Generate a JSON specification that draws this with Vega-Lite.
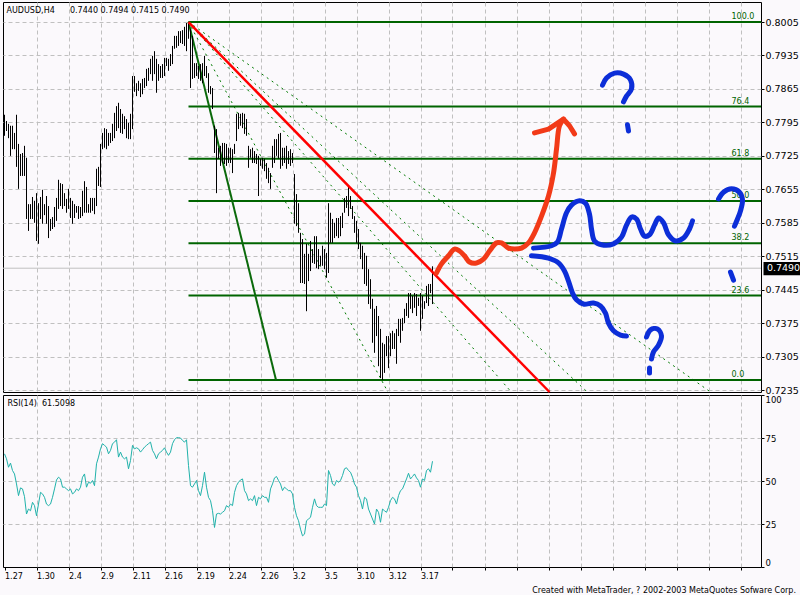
{
  "$schema": "https://vega.github.io/schema/vega-lite/v6.json",
  "background": "#fbf9fc",
  "padding": {"left": 2, "top": 1, "right": 0, "bottom": 0},
  "bounds": "flush",
  "spacing": 3,
  "resolve": {"scale": {"x": "shared", "y": "independent"}},
  "title": {"text": "Created with MetaTrader, ? 2002-2003 MetaQuotes Sofware Corp.", "orient": "bottom", "anchor": "end", "frame": "bounds", "font": "DejaVu Sans", "fontSize": 8, "fontWeight": "normal", "color": "#000000", "offset": 6, "dx": -6},
  "config": {
    "view": {"stroke": "#000000", "strokeWidth": 1, "fill": "#fbf9fc"},
    "axis": {"title": null, "domain": false, "gridColor": "#c0c0c0", "gridDash": [4, 3], "gridWidth": 1, "tickColor": "#000000", "labelColor": "#000000", "labelFont": "DejaVu Sans", "tickCount": 200, "labelOverlap": false},
    "text": {"font": "DejaVu Sans"}
  },
  "datasets": {
    "bars": [
      {"i":0,"h":0.7811,"l":0.7767},{"i":1,"h":0.7798,"l":0.7777},{"i":2,"h":0.7792,"l":0.7762},{"i":3,"h":0.7788,"l":0.7725},{"i":4,"h":0.7788,"l":0.7739},{"i":5,"h":0.7773,"l":0.7739},{"i":6,"h":0.7811,"l":0.7702},{"i":7,"h":0.7750,"l":0.7656},{"i":8,"h":0.7729,"l":0.7683},{"i":9,"h":0.7731,"l":0.7683},
      {"i":10,"h":0.7746,"l":0.7683},{"i":11,"h":0.7721,"l":0.7593},{"i":12,"h":0.7624,"l":0.7568},{"i":13,"h":0.7624,"l":0.7593},{"i":14,"h":0.7639,"l":0.7593},{"i":15,"h":0.7631,"l":0.7585},{"i":16,"h":0.7647,"l":0.7547},{"i":17,"h":0.7626,"l":0.7541},{"i":18,"h":0.7639,"l":0.7593},{"i":19,"h":0.7654,"l":0.7583},
      {"i":20,"h":0.7624,"l":0.7601},{"i":21,"h":0.7641,"l":0.7583},{"i":22,"h":0.7620,"l":0.7553},{"i":23,"h":0.7593,"l":0.7568},{"i":24,"h":0.7597,"l":0.7572},{"i":25,"h":0.7618,"l":0.7576},{"i":26,"h":0.7637,"l":0.7589},{"i":27,"h":0.7675,"l":0.7614},{"i":28,"h":0.7668,"l":0.7620},{"i":29,"h":0.7666,"l":0.7614},
      {"i":30,"h":0.7647,"l":0.7620},{"i":31,"h":0.7635,"l":0.7606},{"i":32,"h":0.7656,"l":0.7614},{"i":33,"h":0.7637,"l":0.7595},{"i":34,"h":0.7631,"l":0.7583},{"i":35,"h":0.7624,"l":0.7595},{"i":36,"h":0.7620,"l":0.7606},{"i":37,"h":0.7620,"l":0.7593},{"i":38,"h":0.7618,"l":0.7595},{"i":39,"h":0.7652,"l":0.7599},
      {"i":40,"h":0.7672,"l":0.7606},{"i":41,"h":0.7660,"l":0.7606},{"i":42,"h":0.7624,"l":0.7606},{"i":43,"h":0.7637,"l":0.7606},{"i":44,"h":0.7637,"l":0.7610},{"i":45,"h":0.7637,"l":0.7603},{"i":46,"h":0.7698,"l":0.7620},{"i":47,"h":0.7702,"l":0.7662},{"i":48,"h":0.7750,"l":0.7660},{"i":49,"h":0.7773,"l":0.7739},
      {"i":50,"h":0.7783,"l":0.7742},{"i":51,"h":0.7781,"l":0.7739},{"i":52,"h":0.7773,"l":0.7746},{"i":53,"h":0.7773,"l":0.7752},{"i":54,"h":0.7792,"l":0.7756},{"i":55,"h":0.7815,"l":0.7762},{"i":56,"h":0.7829,"l":0.7777},{"i":57,"h":0.7836,"l":0.7783},{"i":58,"h":0.7823,"l":0.7773},{"i":59,"h":0.7813,"l":0.7771},
      {"i":60,"h":0.7808,"l":0.7781},{"i":61,"h":0.7802,"l":0.7762},{"i":62,"h":0.7794,"l":0.7760},{"i":63,"h":0.7813,"l":0.7760},{"i":64,"h":0.7892,"l":0.7781},{"i":65,"h":0.7892,"l":0.7859},{"i":66,"h":0.7877,"l":0.7850},{"i":67,"h":0.7882,"l":0.7861},{"i":68,"h":0.7877,"l":0.7848},{"i":69,"h":0.7886,"l":0.7854},
      {"i":70,"h":0.7888,"l":0.7867},{"i":71,"h":0.7907,"l":0.7871},{"i":72,"h":0.7909,"l":0.7882},{"i":73,"h":0.7928,"l":0.7896},{"i":74,"h":0.7934,"l":0.7882},{"i":75,"h":0.7944,"l":0.7896},{"i":76,"h":0.7928,"l":0.7857},{"i":77,"h":0.7917,"l":0.7882},{"i":78,"h":0.7913,"l":0.7888},{"i":79,"h":0.7917,"l":0.7888},
      {"i":80,"h":0.7930,"l":0.7892},{"i":81,"h":0.7930,"l":0.7913},{"i":82,"h":0.7928,"l":0.7903},{"i":83,"h":0.7938,"l":0.7913},{"i":84,"h":0.7955,"l":0.7917},{"i":85,"h":0.7976,"l":0.7949},{"i":86,"h":0.7976,"l":0.7951},{"i":87,"h":0.7986,"l":0.7955},{"i":88,"h":0.7986,"l":0.7961},{"i":89,"h":0.7988,"l":0.7959},
      {"i":90,"h":0.7995,"l":0.7955},{"i":91,"h":0.8003,"l":0.7944},{"i":92,"h":0.8005,"l":0.7970},{"i":93,"h":0.7990,"l":0.7867},{"i":94,"h":0.7976,"l":0.7886},{"i":95,"h":0.7919,"l":0.7888},{"i":96,"h":0.7919,"l":0.7892},{"i":97,"h":0.7913,"l":0.7886},{"i":98,"h":0.7917,"l":0.7882},{"i":99,"h":0.7919,"l":0.7877},
      {"i":100,"h":0.7934,"l":0.7892},{"i":101,"h":0.7913,"l":0.7888},{"i":102,"h":0.7898,"l":0.7857},{"i":103,"h":0.7871,"l":0.7854},{"i":104,"h":0.7867,"l":0.7823},{"i":105,"h":0.7788,"l":0.7731},{"i":106,"h":0.7781,"l":0.7647},{"i":107,"h":0.7742,"l":0.7719},{"i":108,"h":0.7746,"l":0.7704},{"i":109,"h":0.7752,"l":0.7710},
      {"i":110,"h":0.7752,"l":0.7708},{"i":111,"h":0.7750,"l":0.7704},{"i":112,"h":0.7742,"l":0.7710},{"i":113,"h":0.7742,"l":0.7710},{"i":114,"h":0.7739,"l":0.7689},{"i":115,"h":0.7750,"l":0.7729},{"i":116,"h":0.7813,"l":0.7756},{"i":117,"h":0.7815,"l":0.7781},{"i":118,"h":0.7813,"l":0.7788},{"i":119,"h":0.7815,"l":0.7783},
      {"i":120,"h":0.7813,"l":0.7771},{"i":121,"h":0.7802,"l":0.7767},{"i":122,"h":0.7746,"l":0.7700},{"i":123,"h":0.7739,"l":0.7721},{"i":124,"h":0.7742,"l":0.7710},{"i":125,"h":0.7735,"l":0.7710},{"i":126,"h":0.7729,"l":0.7708},{"i":127,"h":0.7725,"l":0.7641},{"i":128,"h":0.7719,"l":0.7704},{"i":129,"h":0.7721,"l":0.7698},
      {"i":130,"h":0.7719,"l":0.7693},{"i":131,"h":0.7710,"l":0.7677},{"i":132,"h":0.7700,"l":0.7668},{"i":133,"h":0.7689,"l":0.7656},{"i":134,"h":0.7746,"l":0.7700},{"i":135,"h":0.7760,"l":0.7710},{"i":136,"h":0.7760,"l":0.7725},{"i":137,"h":0.7771,"l":0.7719},{"i":138,"h":0.7773,"l":0.7698},{"i":139,"h":0.7742,"l":0.7704},
      {"i":140,"h":0.7742,"l":0.7710},{"i":141,"h":0.7746,"l":0.7698},{"i":142,"h":0.7735,"l":0.7708},{"i":143,"h":0.7739,"l":0.7704},{"i":144,"h":0.7731,"l":0.7710},{"i":145,"h":0.7687,"l":0.7583},{"i":146,"h":0.7645,"l":0.7578},{"i":147,"h":0.7626,"l":0.7564},{"i":148,"h":0.7564,"l":0.7459},{"i":149,"h":0.7551,"l":0.7459},
      {"i":150,"h":0.7520,"l":0.7457},{"i":151,"h":0.7541,"l":0.7400},{"i":152,"h":0.7520,"l":0.7463},{"i":153,"h":0.7547,"l":0.7484},{"i":154,"h":0.7530,"l":0.7501},{"i":155,"h":0.7557,"l":0.7499},{"i":156,"h":0.7557,"l":0.7490},{"i":157,"h":0.7530,"l":0.7488},{"i":158,"h":0.7516,"l":0.7495},{"i":159,"h":0.7537,"l":0.7495},
      {"i":160,"h":0.7530,"l":0.7488},{"i":161,"h":0.7522,"l":0.7470},{"i":162,"h":0.7626,"l":0.7480},{"i":163,"h":0.7606,"l":0.7543},{"i":164,"h":0.7593,"l":0.7543},{"i":165,"h":0.7585,"l":0.7553},{"i":166,"h":0.7595,"l":0.7557},{"i":167,"h":0.7595,"l":0.7553},{"i":168,"h":0.7599,"l":0.7557},{"i":169,"h":0.7606,"l":0.7574},
      {"i":170,"h":0.7637,"l":0.7606},{"i":171,"h":0.7641,"l":0.7616},{"i":172,"h":0.7662,"l":0.7599},{"i":173,"h":0.7641,"l":0.7614},{"i":174,"h":0.7620,"l":0.7593},{"i":175,"h":0.7599,"l":0.7564},{"i":176,"h":0.7589,"l":0.7543},{"i":177,"h":0.7572,"l":0.7530},{"i":178,"h":0.7543,"l":0.7509},{"i":179,"h":0.7537,"l":0.7488},
      {"i":180,"h":0.7522,"l":0.7457},{"i":181,"h":0.7516,"l":0.7453},{"i":182,"h":0.7488,"l":0.7415},{"i":183,"h":0.7467,"l":0.7405},{"i":184,"h":0.7426,"l":0.7334},{"i":185,"h":0.7405,"l":0.7313},{"i":186,"h":0.7411,"l":0.7348},{"i":187,"h":0.7390,"l":0.7285},{"i":188,"h":0.7363,"l":0.7260},{"i":189,"h":0.7334,"l":0.7256},
      {"i":190,"h":0.7331,"l":0.7271},{"i":191,"h":0.7348,"l":0.7306},{"i":192,"h":0.7348,"l":0.7281},{"i":193,"h":0.7354,"l":0.7306},{"i":194,"h":0.7359,"l":0.7321},{"i":195,"h":0.7354,"l":0.7321},{"i":196,"h":0.7363,"l":0.7290},{"i":197,"h":0.7384,"l":0.7348},{"i":198,"h":0.7384,"l":0.7334},{"i":199,"h":0.7386,"l":0.7359},
      {"i":200,"h":0.7405,"l":0.7375},{"i":201,"h":0.7417,"l":0.7390},{"i":202,"h":0.7438,"l":0.7386},{"i":203,"h":0.7438,"l":0.7405},{"i":204,"h":0.7432,"l":0.7396},{"i":205,"h":0.7438,"l":0.7407},{"i":206,"h":0.7436,"l":0.7390},{"i":207,"h":0.7428,"l":0.7411},{"i":208,"h":0.7438,"l":0.7359},{"i":209,"h":0.7432,"l":0.7384},
      {"i":210,"h":0.7421,"l":0.7405},{"i":211,"h":0.7453,"l":0.7417},{"i":212,"h":0.7457,"l":0.7411},{"i":213,"h":0.7457,"l":0.7438},{"i":214,"h":0.7494,"l":0.7415}
    ],
    "rsi": [
      {"i":0,"v":65.8},{"i":1,"v":62.9},{"i":2,"v":58},{"i":3,"v":60.4},{"i":4,"v":56.1},{"i":5,"v":54.1},{"i":6,"v":48.3},{"i":7,"v":41.5},{"i":8,"v":46},{"i":9,"v":45.4},
      {"i":10,"v":40.9},{"i":11,"v":30.8},{"i":12,"v":33.7},{"i":13,"v":32.7},{"i":14,"v":37.6},{"i":15,"v":35.7},{"i":16,"v":29.8},{"i":17,"v":36.6},{"i":18,"v":43.4},{"i":19,"v":42.5},
      {"i":20,"v":40.5},{"i":21,"v":36.6},{"i":22,"v":35.7},{"i":23,"v":36.6},{"i":24,"v":40.5},{"i":25,"v":45.4},{"i":26,"v":50.6},{"i":27,"v":52.2},{"i":28,"v":51.2},{"i":29,"v":46.4},
      {"i":30,"v":46.4},{"i":31,"v":45.4},{"i":32,"v":44.4},{"i":33,"v":45.4},{"i":34,"v":42.5},{"i":35,"v":43.4},{"i":36,"v":45.4},{"i":37,"v":44.4},{"i":38,"v":46.4},{"i":39,"v":52.2},
      {"i":40,"v":54.1},{"i":41,"v":46.4},{"i":42,"v":49.3},{"i":43,"v":48.7},{"i":44,"v":50.3},{"i":45,"v":47.3},{"i":46,"v":60},{"i":47,"v":63.9},{"i":48,"v":68.7},{"i":49,"v":71.7},
      {"i":50,"v":70.7},{"i":51,"v":69.7},{"i":52,"v":65.8},{"i":53,"v":67.8},{"i":54,"v":71.7},{"i":55,"v":72.6},{"i":56,"v":74},{"i":57,"v":63.9},{"i":58,"v":66.8},{"i":59,"v":63.9},
      {"i":60,"v":62.9},{"i":61,"v":63.9},{"i":62,"v":57.1},{"i":63,"v":61.9},{"i":64,"v":70.7},{"i":65,"v":68.7},{"i":66,"v":69.3},{"i":67,"v":68.7},{"i":68,"v":66.8},{"i":69,"v":68.2},
      {"i":70,"v":69.7},{"i":71,"v":70.7},{"i":72,"v":71.7},{"i":73,"v":72.6},{"i":74,"v":67.8},{"i":75,"v":65.8},{"i":76,"v":62.9},{"i":77,"v":65.8},{"i":78,"v":66.8},{"i":79,"v":67.8},
      {"i":80,"v":69.3},{"i":81,"v":66.8},{"i":82,"v":64.9},{"i":83,"v":66.8},{"i":84,"v":71.7},{"i":85,"v":74},{"i":86,"v":75.2},{"i":87,"v":75.2},{"i":88,"v":75},{"i":89,"v":73.6},
      {"i":90,"v":72.6},{"i":91,"v":74},{"i":92,"v":59},{"i":93,"v":47.3},{"i":94,"v":46.4},{"i":95,"v":48.3},{"i":96,"v":50.3},{"i":97,"v":44.4},{"i":98,"v":41.5},{"i":99,"v":47.3},
      {"i":100,"v":55.1},{"i":101,"v":46.4},{"i":102,"v":40.5},{"i":103,"v":38.6},{"i":104,"v":32.7},{"i":105,"v":23},{"i":106,"v":30.8},{"i":107,"v":31.2},{"i":108,"v":30.8},{"i":109,"v":31.8},
      {"i":110,"v":32.7},{"i":111,"v":35.7},{"i":112,"v":34.7},{"i":113,"v":36.6},{"i":114,"v":35.7},{"i":115,"v":43.4},{"i":116,"v":47.3},{"i":117,"v":49.3},{"i":118,"v":50.6},{"i":119,"v":51.2},
      {"i":120,"v":44.4},{"i":121,"v":42.5},{"i":122,"v":38.6},{"i":123,"v":39.6},{"i":124,"v":38.6},{"i":125,"v":41.5},{"i":126,"v":35.7},{"i":127,"v":40.5},{"i":128,"v":39.6},{"i":129,"v":41.5},
      {"i":130,"v":40.5},{"i":131,"v":40.5},{"i":132,"v":37.6},{"i":133,"v":45.4},{"i":134,"v":48.3},{"i":135,"v":51.8},{"i":136,"v":52.6},{"i":137,"v":50.3},{"i":138,"v":48.3},{"i":139,"v":44.4},
      {"i":140,"v":46.4},{"i":141,"v":45.4},{"i":142,"v":44.4},{"i":143,"v":44.4},{"i":144,"v":42.5},{"i":145,"v":34.7},{"i":146,"v":29.8},{"i":147,"v":26.9},{"i":148,"v":22},{"i":149,"v":18.1},
      {"i":150,"v":19.1},{"i":151,"v":26.9},{"i":152,"v":27.9},{"i":153,"v":28.9},{"i":154,"v":34.7},{"i":155,"v":39.6},{"i":156,"v":35.7},{"i":157,"v":34.7},{"i":158,"v":34.7},{"i":159,"v":34.7},
      {"i":160,"v":36.6},{"i":161,"v":35.7},{"i":162,"v":56.1},{"i":163,"v":53.2},{"i":164,"v":48.3},{"i":165,"v":47.3},{"i":166,"v":50.3},{"i":167,"v":49.3},{"i":168,"v":50.3},{"i":169,"v":53.2},
      {"i":170,"v":57.1},{"i":171,"v":57.7},{"i":172,"v":56.1},{"i":173,"v":55.1},{"i":174,"v":52.2},{"i":175,"v":48.3},{"i":176,"v":46.4},{"i":177,"v":41.5},{"i":178,"v":38.6},{"i":179,"v":33.7},
      {"i":180,"v":40.5},{"i":181,"v":39.6},{"i":182,"v":33.7},{"i":183,"v":30.8},{"i":184,"v":27.9},{"i":185,"v":25},{"i":186,"v":33.7},{"i":187,"v":31.8},{"i":188,"v":26},{"i":189,"v":33.7},
      {"i":190,"v":32.7},{"i":191,"v":31.8},{"i":192,"v":34.7},{"i":193,"v":38.6},{"i":194,"v":40.5},{"i":195,"v":39.6},{"i":196,"v":36.6},{"i":197,"v":41.5},{"i":198,"v":44.4},{"i":199,"v":45.4},
      {"i":200,"v":48.3},{"i":201,"v":51.2},{"i":202,"v":54.5},{"i":203,"v":51.2},{"i":204,"v":52.6},{"i":205,"v":54.1},{"i":206,"v":51.8},{"i":207,"v":50.3},{"i":208,"v":46.4},{"i":209,"v":51.2},
      {"i":210,"v":50.3},{"i":211,"v":56.1},{"i":212,"v":57.1},{"i":213,"v":55.1},{"i":214,"v":61.5}
    ],
    "fib": [
      {"t":"100.0","p":0.8005},{"t":"76.4","p":0.78282},{"t":"61.8","p":0.77188},{"t":"50.0","p":0.76305},{"t":"38.2","p":0.75421},{"t":"23.6","p":0.74327},{"t":"0.0","p":0.72559}
    ],
    "fan": [
      {"g":"f100","k":0,"i":92,"p":0.8005},{"g":"f100","k":1,"i":191.7,"p":0.7231},
      {"g":"f618","k":0,"i":92,"p":0.8005},{"g":"f618","k":1,"i":253.4,"p":0.7231},
      {"g":"f500","k":0,"i":92,"p":0.8005},{"g":"f500","k":1,"i":291.4,"p":0.7231},
      {"g":"f382","k":0,"i":92,"p":0.8005},{"g":"f382","k":1,"i":353.0,"p":0.7231}
    ],
    "greenTrend": [{"k":0,"i":92,"p":0.8005},{"k":1,"i":135.75,"p":0.7256}],
    "redTrend": [{"k":0,"i":92,"p":0.8005},{"k":1,"i":272.5,"p":0.7231}],
    "last": [{"p":0.749,"t":"0.7490"}],
    "hdr": [{"t":"AUDUSD,H4\u00a0\u00a0\u00a0\u00a0\u00a0\u00a00.7440 0.7494 0.7415 0.7490"}],
    "rsihdr": [{"t":"RSI(14)\u00a0\u00a061.5098"}],
    "redCurve": [
      {"k":0,"i":216,"p":0.7480},{"k":1,"i":218.5,"p":0.7499},{"k":2,"i":222,"p":0.7516},{"k":3,"i":225,"p":0.7530},{"k":4,"i":227.5,"p":0.7526},{"k":5,"i":230,"p":0.7516},{"k":6,"i":232.5,"p":0.7503},{"k":7,"i":236,"p":0.7501},{"k":8,"i":239.5,"p":0.7509},{"k":9,"i":242.5,"p":0.7526},{"k":10,"i":246,"p":0.7543},{"k":11,"i":248.5,"p":0.7543},{"k":12,"i":252,"p":0.7532},{"k":13,"i":255,"p":0.7530},{"k":14,"i":258.5,"p":0.7532},{"k":15,"i":262,"p":0.7543},{"k":16,"i":265,"p":0.7564},{"k":17,"i":268.5,"p":0.7599},{"k":18,"i":272,"p":0.7641},{"k":19,"i":274.5,"p":0.7689},{"k":20,"i":276,"p":0.7739},{"k":21,"i":277.5,"p":0.7788},{"k":22,"i":279.5,"p":0.7802}
    ],
    "redArrow": [{"k":0,"i":265,"p":0.7773},{"k":1,"i":272,"p":0.7781},{"k":2,"i":279.5,"p":0.7802},{"k":3,"i":282.5,"p":0.7788},{"k":4,"i":285,"p":0.7771}],
    "blue": [
      {"g":"b1","k":0,"i":264.5,"p":0.7532},{"g":"b1","k":1,"i":273.5,"p":0.7537},{"g":"b1","k":2,"i":276.5,"p":0.7545},{"g":"b1","k":3,"i":278.5,"p":0.7572},{"g":"b1","k":4,"i":281,"p":0.7606},{"g":"b1","k":5,"i":283.5,"p":0.7622},{"g":"b1","k":6,"i":287.5,"p":0.7631},{"g":"b1","k":7,"i":290.5,"p":0.7626},{"g":"b1","k":8,"i":292.5,"p":0.7603},{"g":"b1","k":9,"i":293.5,"p":0.7572},{"g":"b1","k":10,"i":295,"p":0.7547},{"g":"b1","k":11,"i":298.5,"p":0.7539},{"g":"b1","k":12,"i":304.5,"p":0.7541},{"g":"b1","k":13,"i":308.5,"p":0.7555},{"g":"b1","k":14,"i":311,"p":0.7580},{"g":"b1","k":15,"i":313.5,"p":0.7597},{"g":"b1","k":16,"i":316,"p":0.7593},{"g":"b1","k":17,"i":318,"p":0.7572},{"g":"b1","k":18,"i":320,"p":0.7557},{"g":"b1","k":19,"i":322.5,"p":0.7560},{"g":"b1","k":20,"i":325,"p":0.7580},{"g":"b1","k":21,"i":327,"p":0.7595},{"g":"b1","k":22,"i":329.5,"p":0.7585},{"g":"b1","k":23,"i":332,"p":0.7560},{"g":"b1","k":24,"i":335.5,"p":0.7547},{"g":"b1","k":25,"i":339.5,"p":0.7553},{"g":"b1","k":26,"i":342.5,"p":0.7572},{"g":"b1","k":27,"i":344,"p":0.7589},
      {"g":"b2","k":0,"i":263.5,"p":0.7516},{"g":"b2","k":1,"i":272,"p":0.7511},{"g":"b2","k":2,"i":277,"p":0.7501},{"g":"b2","k":3,"i":280,"p":0.7484},{"g":"b2","k":4,"i":282,"p":0.7463},{"g":"b2","k":5,"i":284,"p":0.7438},{"g":"b2","k":6,"i":286,"p":0.7424},{"g":"b2","k":7,"i":289.5,"p":0.7415},{"g":"b2","k":8,"i":294.5,"p":0.7417},{"g":"b2","k":9,"i":298,"p":0.7411},{"g":"b2","k":10,"i":300.5,"p":0.7396},{"g":"b2","k":11,"i":302,"p":0.7375},{"g":"b2","k":12,"i":304.5,"p":0.7359},{"g":"b2","k":13,"i":308,"p":0.7350},{"g":"b2","k":14,"i":311,"p":0.7348},
      {"g":"q1","k":0,"i":299,"p":0.7873},{"g":"q1","k":1,"i":301,"p":0.7888},{"g":"q1","k":2,"i":305,"p":0.7898},{"g":"q1","k":3,"i":309.5,"p":0.7896},{"g":"q1","k":4,"i":313,"p":0.7884},{"g":"q1","k":5,"i":313.5,"p":0.7865},{"g":"q1","k":6,"i":311,"p":0.7850},{"g":"q1","k":7,"i":309.5,"p":0.7838},
      {"g":"q2","k":0,"i":357,"p":0.7635},{"g":"q2","k":1,"i":359.5,"p":0.7649},{"g":"q2","k":2,"i":363.5,"p":0.7656},{"g":"q2","k":3,"i":367.5,"p":0.7649},{"g":"q2","k":4,"i":369,"p":0.7633},{"g":"q2","k":5,"i":368,"p":0.7610},{"g":"q2","k":6,"i":366.5,"p":0.7593},{"g":"q2","k":7,"i":365,"p":0.7578},
      {"g":"q3","k":0,"i":321,"p":0.7346},{"g":"q3","k":1,"i":323,"p":0.7361},{"g":"q3","k":2,"i":326.5,"p":0.7363},{"g":"q3","k":3,"i":328.5,"p":0.7348},{"g":"q3","k":4,"i":327,"p":0.7329},{"g":"q3","k":5,"i":324.5,"p":0.7315},{"g":"q3","k":6,"i":323.5,"p":0.7300}
    ],
    "blueDots": [
      {"g":"d1","k":0,"i":311.5,"p":0.7790},{"g":"d1","k":1,"i":312,"p":0.7777},
      {"g":"d2","k":0,"i":363,"p":0.7482},{"g":"d2","k":1,"i":364.5,"p":0.7465},
      {"g":"d3","k":0,"i":322.5,"p":0.7281},{"g":"d3","k":1,"i":322.5,"p":0.7271}
    ]
  },
  "vconcat": [
    {
      "width": 758,
      "height": 390,
      "layer": [
        {
          "data": {"name": "fan"},
          "mark": {"type": "line", "color": "#007a00", "strokeWidth": 1, "strokeDash": [2, 4]},
          "encoding": {
            "x": {"field": "i", "type": "quantitative", "scale": {"domain": [-0.75, 378.25], "nice": false, "zero": false},
                  "axis": {"values": [0,16,32,48,64,80,96,112,128,144,160,176,192,208,224,240,256,272,288,304,320,336,352,368], "tickCount": 200, "labels": false, "ticks": false, "grid": true, "gridOpacity": {"condition": {"test": "datum.value == 0", "value": 0}, "value": 1}}},
            "y": {"field": "p", "type": "quantitative", "scale": {"domain": [0.7231, 0.80469], "nice": false, "zero": false},
                  "axis": {"orient": "right", "values": [0.7235,0.7305,0.7375,0.7445,0.7515,0.7585,0.7655,0.7725,0.7795,0.7865,0.7935,0.8005], "tickCount": 200, "labelOverlap": false, "format": ".4f", "tickSize": 3, "labelPadding": 1, "labelFontSize": 9.5, "grid": true}},
            "detail": {"field": "g"},
            "order": {"field": "k"}
          }
        },
        {
          "data": {"name": "last"},
          "mark": {"type": "rule", "color": "#c0c0c0", "strokeWidth": 1},
          "encoding": {"y": {"field": "p", "type": "quantitative"}}
        },
        {
          "data": {"name": "fib"},
          "mark": {"type": "rule", "color": "#006400", "strokeWidth": 2},
          "encoding": {"x": {"datum": 92}, "x2": {"datum": 378.25}, "y": {"field": "p", "type": "quantitative"}}
        },
        {
          "data": {"name": "fib"},
          "mark": {"type": "text", "color": "#006400", "fontSize": 8, "align": "left", "baseline": "alphabetic", "dy": -3},
          "encoding": {"x": {"datum": 363.5}, "y": {"field": "p", "type": "quantitative"}, "text": {"field": "t"}}
        },
        {
          "data": {"name": "greenTrend"},
          "mark": {"type": "line", "color": "#0b6a0b", "strokeWidth": 2},
          "encoding": {"x": {"field": "i", "type": "quantitative"}, "y": {"field": "p", "type": "quantitative"}, "order": {"field": "k"}}
        },
        {
          "data": {"name": "bars"},
          "mark": {"type": "rule", "color": "#000000", "strokeWidth": 1},
          "encoding": {"x": {"field": "i", "type": "quantitative"}, "y": {"field": "h", "type": "quantitative"}, "y2": {"field": "l"}}
        },
        {
          "data": {"name": "redTrend"},
          "mark": {"type": "line", "color": "#ff0000", "strokeWidth": 2.5},
          "encoding": {"x": {"field": "i", "type": "quantitative"}, "y": {"field": "p", "type": "quantitative"}, "order": {"field": "k"}}
        },
        {
          "data": {"name": "redCurve"},
          "mark": {"type": "line", "color": "#f23a18", "strokeWidth": 5, "interpolate": "catmull-rom", "strokeCap": "round", "strokeJoin": "round"},
          "encoding": {"x": {"field": "i", "type": "quantitative"}, "y": {"field": "p", "type": "quantitative"}, "order": {"field": "k"}}
        },
        {
          "data": {"name": "redArrow"},
          "mark": {"type": "line", "color": "#f23a18", "strokeWidth": 5, "strokeCap": "round", "strokeJoin": "round"},
          "encoding": {"x": {"field": "i", "type": "quantitative"}, "y": {"field": "p", "type": "quantitative"}, "order": {"field": "k"}}
        },
        {
          "data": {"name": "blue"},
          "mark": {"type": "line", "color": "#0c2ed8", "strokeWidth": 5, "interpolate": "catmull-rom", "strokeCap": "round", "strokeJoin": "round"},
          "encoding": {"x": {"field": "i", "type": "quantitative"}, "y": {"field": "p", "type": "quantitative"}, "detail": {"field": "g"}, "order": {"field": "k"}}
        },
        {
          "data": {"name": "blueDots"},
          "mark": {"type": "line", "color": "#0c2ed8", "strokeWidth": 5, "strokeCap": "round", "strokeJoin": "round"},
          "encoding": {"x": {"field": "i", "type": "quantitative"}, "y": {"field": "p", "type": "quantitative"}, "detail": {"field": "g"}, "order": {"field": "k"}}
        },
        {
          "data": {"name": "hdr"},
          "mark": {"type": "text", "color": "#000000", "fontSize": 8, "align": "left", "baseline": "middle"},
          "encoding": {"x": {"datum": 1}, "y": {"datum": 0.8028}, "text": {"field": "t"}}
        },
        {
          "data": {"name": "last"},
          "mark": {"type": "rect", "color": "#000000"},
          "encoding": {"x": {"datum": 379.5}, "x2": {"datum": 398.5}, "y": {"datum": 0.7503}, "y2": {"datum": 0.7475}}
        },
        {
          "data": {"name": "last"},
          "mark": {"type": "text", "color": "#ffffff", "fontSize": 9.5, "align": "center", "baseline": "middle"},
          "encoding": {"x": {"datum": 389.5}, "y": {"field": "p", "type": "quantitative"}, "text": {"field": "t"}}
        }
      ]
    },
    {
      "width": 758,
      "height": 172,
      "layer": [
        {
          "data": {"name": "rsi"},
          "mark": {"type": "line", "color": "#20b2aa", "strokeWidth": 1},
          "encoding": {
            "x": {"field": "i", "type": "quantitative", "scale": {"domain": [-0.75, 378.25], "nice": false, "zero": false},
                  "axis": {"values": [0,16,32,48,64,80,96,112,128,144,160,176,192,208,224,240,256,272,288,304,320,336,352,368], "tickCount": 200,
                           "labelExpr": "datum.value <= 208 ? ['1.27','1.30','2.4','2.9','2.11','2.16','2.19','2.24','2.26','3.2','3.5','3.10','3.12','3.17'][round(datum.value/16)] : ''",
                           "tickSize": 3, "labelPadding": 2, "labelAlign": "left", "labelFontSize": 8, "labelOverlap": false, "labelBound": false, "labelFlush": false,
                           "grid": true, "gridOpacity": {"condition": {"test": "datum.value == 0", "value": 0}, "value": 1}}},
            "y": {"field": "v", "type": "quantitative", "scale": {"domain": [0, 100], "nice": false, "zero": false},
                  "axis": {"orient": "right", "values": [0, 25, 50, 75, 100], "format": "d", "tickCount": 200, "tickSize": 3, "labelPadding": 1, "labelFontSize": 8.5, "labelFlush": true, "labelOverlap": false,
                           "grid": true, "gridOpacity": {"condition": {"test": "datum.value == 0 || datum.value == 100", "value": 0}, "value": 1}}}
          }
        },
        {
          "data": {"name": "rsihdr"},
          "mark": {"type": "text", "color": "#000000", "fontSize": 8, "align": "left", "baseline": "middle"},
          "encoding": {"x": {"datum": 1.5}, "y": {"datum": 94.8}, "text": {"field": "t"}}
        }
      ]
    }
  ]
}
